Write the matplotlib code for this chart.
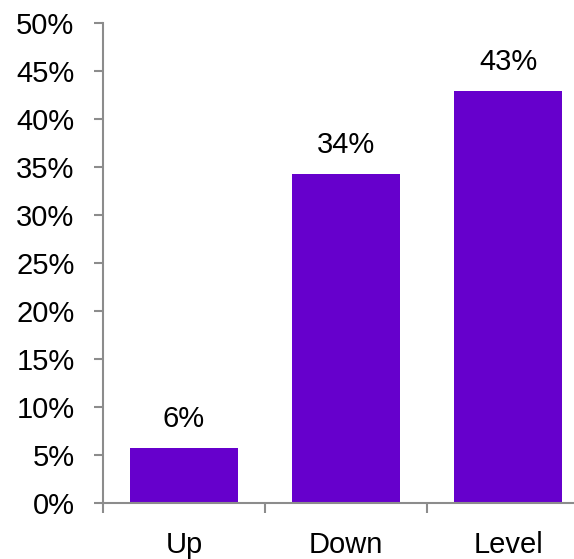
import numpy as np
import matplotlib.pyplot as plt
from matplotlib.ticker import FuncFormatter

plt.rcParams['font.family'] = ['Liberation Sans', 'DejaVu Sans']

# Share of answers per direction, in percent
categories = ['Up', 'Down', 'Level']
shares = [5.7, 34.3, 42.9]

bar_color = '#6600CC'
axis_grey = '#8C8C8C'
fs = 21

fig = plt.figure(figsize=(5.74, 5.59), dpi=100)
# axes run past the right edge of the figure
ax = fig.add_axes([103 / 574, 56 / 559, 486 / 574, 480 / 559])

x = np.arange(len(categories))
bars = ax.bar(x, shares, width=0.667, color=bar_color, zorder=2)

for xi, v in zip(x, shares):
    ax.text(xi, v + 3.0, f'{v:.0f}%', ha='center', va='center', fontsize=fs)

ax.set_xlim(-0.5, len(categories) - 0.5)
ax.set_ylim(0, 50)
ax.set_yticks(np.arange(0, 51, 5))
ax.yaxis.set_major_formatter(FuncFormatter(lambda v, p: f'{v:.0f}%'))

# tick marks between the categories, names centred under the bars
ax.set_xticks(np.arange(-0.5, len(categories), 1.0))
ax.set_xticklabels([])
ax.set_xticks(x, minor=True)
ax.set_xticklabels(categories, minor=True)

ax.tick_params(axis='y', direction='out', length=6.5, width=1.5,
               color=axis_grey, labelsize=fs, pad=14)
ax.tick_params(axis='x', which='major', direction='out', length=7, width=1.5,
               color=axis_grey)
ax.tick_params(axis='x', which='minor', length=0, labelsize=fs, pad=20)

for side in ['top', 'right']:
    ax.spines[side].set_visible(False)
for side in ['left', 'bottom']:
    ax.spines[side].set_color(axis_grey)
    ax.spines[side].set_linewidth(1.5)

fig.savefig('out.png', dpi=100)
